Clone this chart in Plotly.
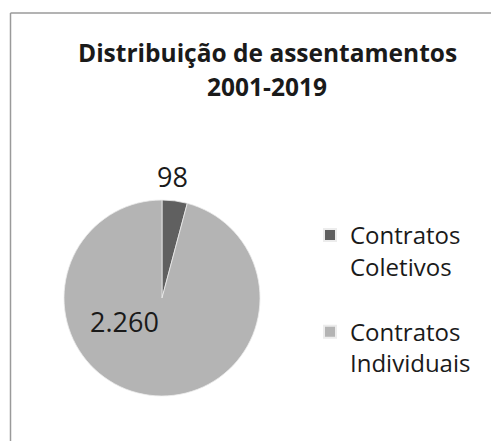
import plotly.graph_objects as go

categories = ["Contratos Coletivos", "Contratos Individuais"]
values = [98, 2260]
colors = ["#606060", "#b4b4b4"]
title_lines = ["Distribuição de assentamentos", "2001-2019"]

# The page body adds an 8px offset; figure sized to fill the rest of the window
OFF = 8
W, H = 499 - OFF, 441 - OFF


def px(x):
    return (x - OFF) / W


def py(y):
    return 1 - (y - OFF) / H


cx, cy, r = 162, 298, 98


def fmt(v):
    return f"{v:,}".replace(",", ".")


# legend labels: two lines each, extra blank line after first item for spacing
legend_names = []
for i, c in enumerate(categories):
    a, b = c.split(" ", 1)
    name = f"{a}<br>{b}"
    if i < len(categories) - 1:
        name += "<br> "
    legend_names.append(name)

fig = go.Figure(go.Pie(
    labels=legend_names,
    values=values,
    sort=False,
    direction="clockwise",
    rotation=0,
    marker=dict(colors=colors, line=dict(color="#ececec", width=0.8)),
    textinfo="none",
    domain=dict(x=[px(cx - r), px(cx + r)], y=[py(cy + r), py(cy - r)]),
    hoverinfo="skip",
))

# data labels (text from values)
label_pos = [(172.5, 177), (124, 321)]
annotations = []
for v, (lx, ly) in zip(values, label_pos):
    annotations.append(dict(
        text=fmt(v), x=px(lx), y=py(ly), xref="paper", yref="paper",
        xanchor="center", yanchor="middle", showarrow=False,
        font=dict(family="Open Sans", size=27, color="#1a1a1a"),
    ))

# title lines
for t, ty in zip(title_lines, [52, 87]):
    annotations.append(dict(
        text=f"<b>{t}</b>", x=px(267), y=py(ty), xref="paper", yref="paper",
        xanchor="center", yanchor="middle", showarrow=False,
        font=dict(family="Open Sans", size=24.5, color="#1a1a1a"),
    ))

fig.update_layout(
    width=W, height=H,
    margin=dict(l=0, r=0, t=0, b=0),
    paper_bgcolor="white",
    font=dict(family="Open Sans", color="#1a1a1a"),
    showlegend=True,
    legend=dict(
        x=px(310), y=py(213), xanchor="left", yanchor="top",
        font=dict(family="Open Sans", size=24, color="#1a1a1a"),
        valign="top", itemsizing="constant", tracegroupgap=0,
    ),
    annotations=annotations,
    shapes=[
        dict(type="line", xref="paper", yref="paper", x0=px(10.5), x1=1.01, y0=py(13), y1=py(13),
             line=dict(color="#9a9a9a", width=1.5)),
        dict(type="line", xref="paper", yref="paper", x0=px(10.5), x1=px(10.5), y0=py(13), y1=-0.01,
             line=dict(color="#9a9a9a", width=1.5)),
    ],
)

fig.write_html("out.html")
